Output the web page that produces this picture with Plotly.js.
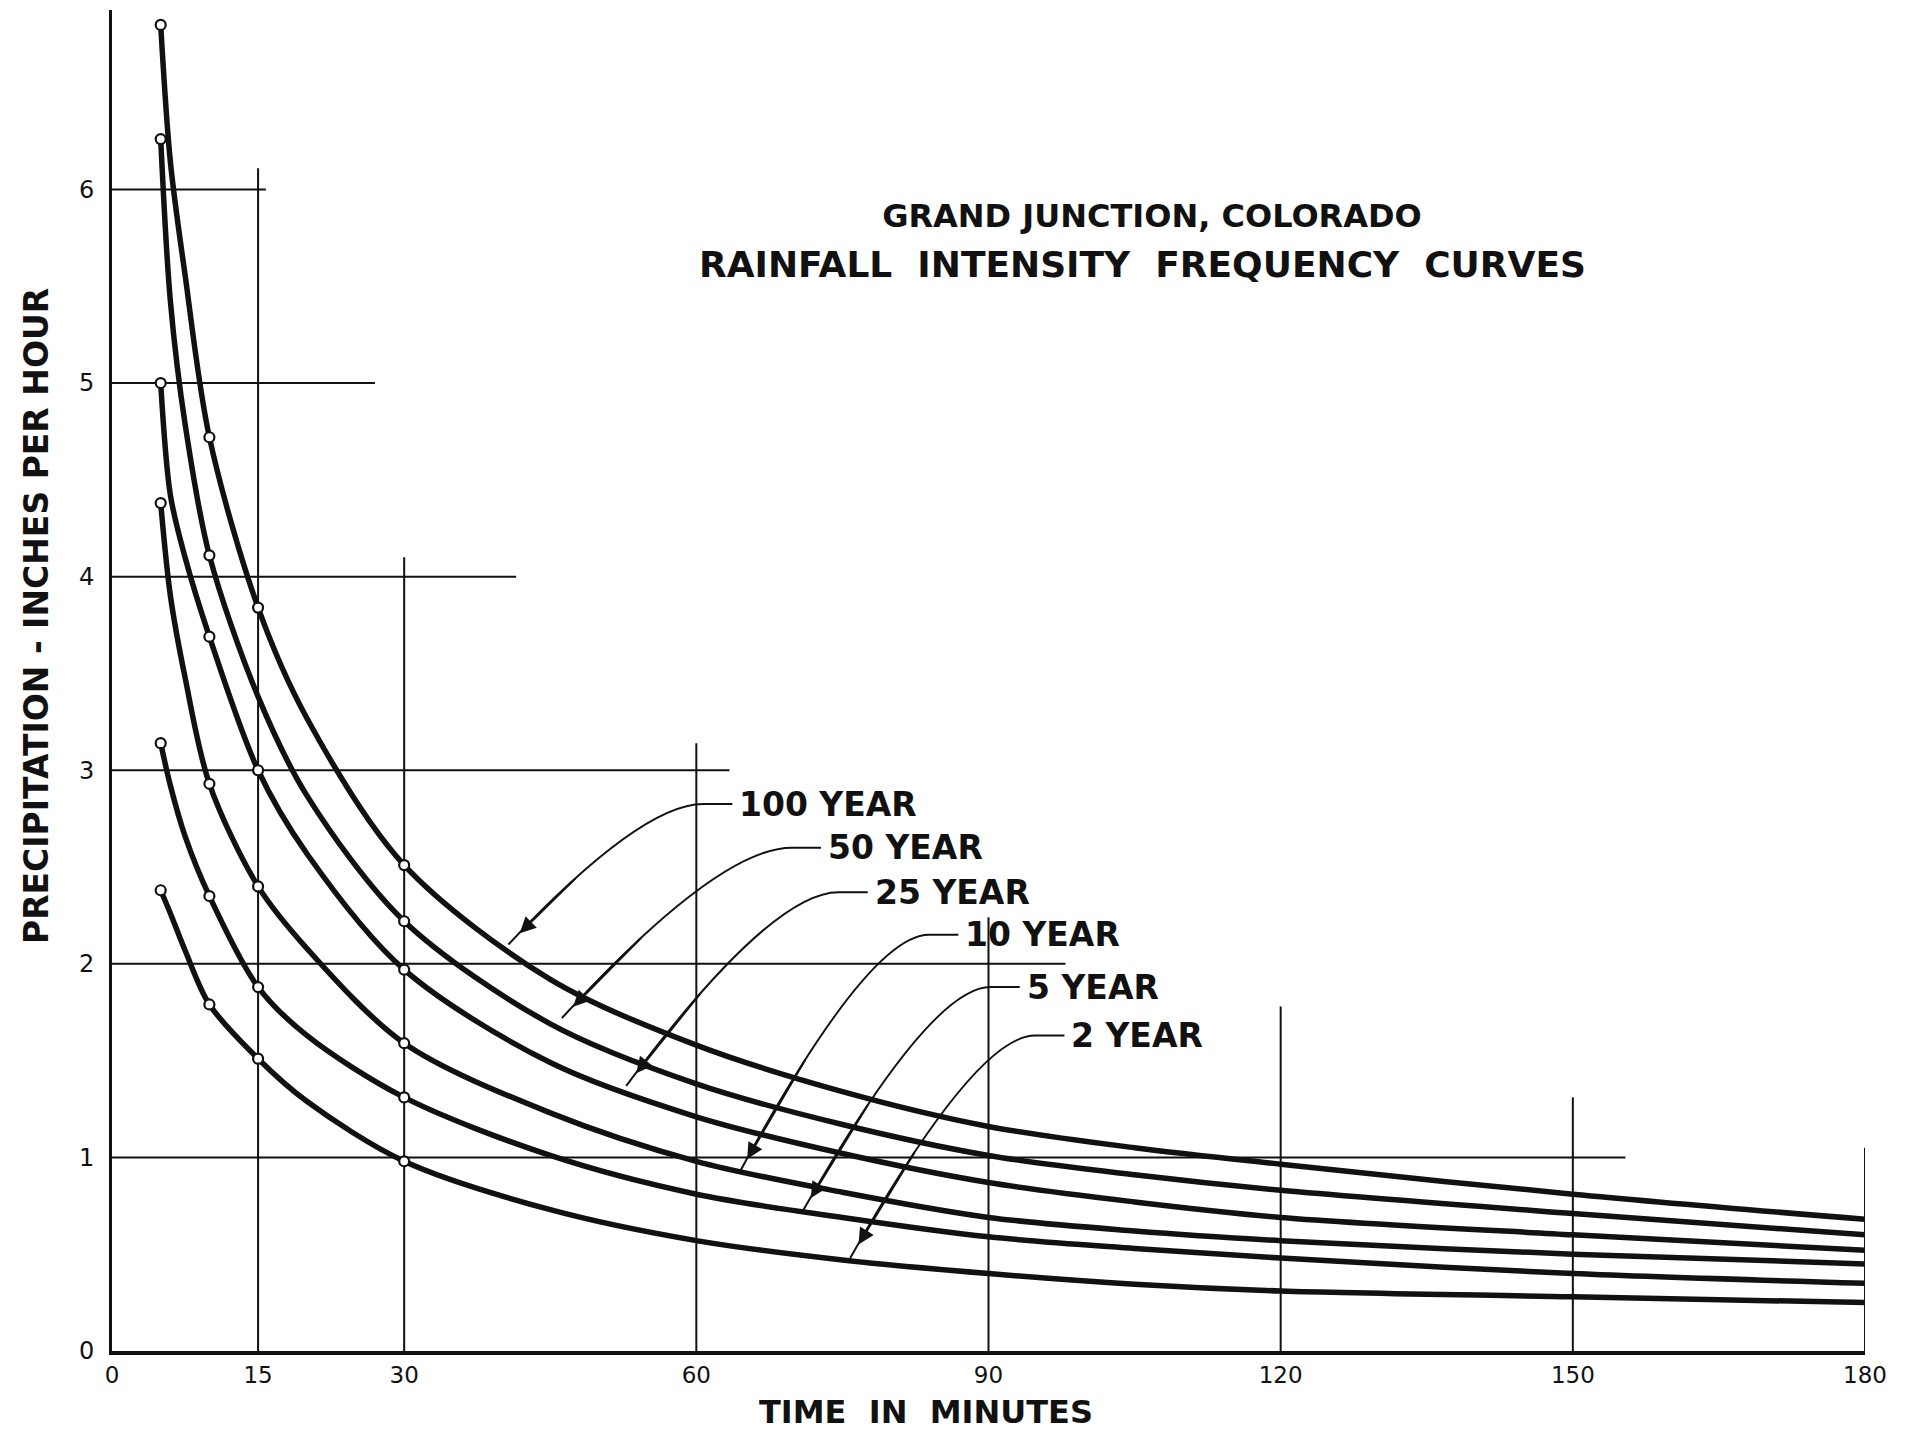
<!DOCTYPE html>
<html>
<head>
<meta charset="utf-8">
<script src="https://cdn.plot.ly/plotly-3.0.1.min.js"></script>
<style>
  html, body { margin: 0; padding: 0; background: #ffffff; }
  #chart { width: 1905px; height: 1431px; }
</style>
</head>
<body>
<div id="chart"></div>
<script>
// ---- data ----
const minutes  = [5, 6, 7.5, 10, 15, 20, 30, 45, 60, 75, 90, 105, 120, 150, 180];
const year100  = [6.85, 6.14, 5.56, 4.72, 3.84, 3.27, 2.51, 1.92, 1.58, 1.34, 1.16, 1.05, 0.965, 0.81, 0.68];
const year50   = [6.26, 5.42, 4.79, 4.11, 3.38, 2.87, 2.22, 1.69, 1.38, 1.17, 1.01, 0.91, 0.83, 0.71, 0.60];
const year25   = [5.00, 4.42, 4.10, 3.69, 3.00, 2.57, 1.97, 1.49, 1.21, 1.02, 0.87, 0.77, 0.69, 0.60, 0.52];
const year10   = [4.38, 3.90, 3.48, 2.93, 2.40, 2.08, 1.59, 1.23, 0.98, 0.82, 0.69, 0.62, 0.57, 0.50, 0.45];
const year5    = [3.14, 2.92, 2.66, 2.35, 1.88, 1.63, 1.31, 1.01, 0.81, 0.69, 0.59, 0.53, 0.48, 0.40, 0.35];
const year2    = [2.38, 2.26, 2.07, 1.79, 1.51, 1.29, 0.98, 0.73, 0.57, 0.47, 0.40, 0.345, 0.31, 0.28, 0.25];

// plotted (circled) points
const circleMinutes = [5, 10, 15, 30];
const circle100 = [6.85, 4.72, 3.84, 2.51];
const circle50  = [6.26, 4.11, null, 2.22];
const circle25  = [5.00, 3.69, 3.00, 1.97];
const circle10  = [4.38, 2.93, 2.40, 1.59];
const circle5   = [3.14, 2.35, 1.88, 1.31];
const circle2   = [2.38, 1.79, 1.51, 0.98];

// curve labels and where their leaders point
const labelTexts = ['100 YEAR', '50 YEAR', '25 YEAR', '10 YEAR', '5 YEAR', '2 YEAR'];
const labelMin   = [64.2, 73.3, 78.1, 87.4, 93.7, 98.3];
const labelVal   = [2.825, 2.60, 2.37, 2.15, 1.88, 1.63];
const tipMin     = [40.7, 46.2, 52.8, 64.4, 70.9, 75.8];
const tipVal     = [2.10, 1.72, 1.37, 0.92, 0.72, 0.48];

// staircase grid lines of the drawing
const hGridVals = [1, 2, 3, 4, 5, 6];
const hGridEnds = [155.4, 97.9, 63.4, 41.5, 27.0, 15.8];
const vGridVals = [15, 30, 60, 90, 120, 150, 180];
const vGridTops = [6.11, 4.10, 3.14, 2.24, 1.78, 1.31, 1.05];

const xTicks = [0, 15, 30, 60, 90, 120, 150, 180];
const yTicks = [0, 1, 2, 3, 4, 5, 6];

const titleLine1 = 'GRAND JUNCTION, COLORADO';
const titleLine2 = 'RAINFALL\u00a0\u00a0INTENSITY\u00a0\u00a0FREQUENCY\u00a0\u00a0CURVES';
const xTitle = 'TIME\u00a0\u00a0IN\u00a0\u00a0MINUTES';
const yTitle = 'PRECIPITATION - INCHES PER HOUR';

// ---- drawing ----
const FONT = 'DejaVu Sans, Liberation Sans, Arial, sans-serif';
const INK = '#111111';

const seriesVals = [year100, year50, year25, year10, year5, year2];
const circleVals = [circle100, circle50, circle25, circle10, circle5, circle2];

const traces = [];
seriesVals.forEach((vals, i) => {
  traces.push({
    type: 'scatter', mode: 'lines', name: labelTexts[i],
    x: minutes, y: vals,
    line: { color: INK, width: 5.5, shape: 'spline', smoothing: 0.9 },
    showlegend: false
  });
});
circleVals.forEach((vals, i) => {
  traces.push({
    type: 'scatter', mode: 'markers', name: labelTexts[i] + ' points',
    x: circleMinutes, y: vals,
    marker: { symbol: 'circle', size: 10, color: '#ffffff', line: { color: INK, width: 2.2 } },
    showlegend: false
  });
});

const shapes = [];
hGridVals.forEach((v, i) => {
  shapes.push({ type: 'line', xref: 'x', yref: 'y', x0: 0, x1: hGridEnds[i], y0: v, y1: v,
    line: { color: INK, width: 2 }, layer: 'below' });
});
vGridVals.forEach((v, i) => {
  shapes.push({ type: 'line', xref: 'x', yref: 'y', x0: v, x1: v, y0: 0, y1: vGridTops[i],
    line: { color: INK, width: 2 }, layer: 'below' });
});

const annotations = [];
function quad(p0, p1, p2, t) {
  const a = (1 - t) * (1 - t), b = 2 * (1 - t) * t, c = t * t;
  return [a * p0[0] + b * p1[0] + c * p2[0], a * p0[1] + b * p1[1] + c * p2[1]];
}
labelTexts.forEach((txt, i) => {
  const sx = labelMin[i] - 0.5;
  const sy = labelVal[i];
  const hx = sx - 3.0;
  const tx = tipMin[i], ty = tipVal[i];
  const cx = tx + 0.68 * (hx - tx);
  shapes.push({
    type: 'path', xref: 'x', yref: 'y',
    path: `M ${sx},${sy} L ${hx},${sy} Q ${cx},${sy} ${tx},${ty}`,
    line: { color: INK, width: 2 }
  });
  const tail = quad([hx, sy], [cx, sy], [tx, ty], 0.72);
  annotations.push({
    xref: 'x', yref: 'y', axref: 'x', ayref: 'y',
    x: tx, y: ty, ax: tail[0], ay: tail[1], text: '',
    showarrow: true, arrowhead: 2, arrowsize: 1.6, arrowwidth: 2, arrowcolor: INK, standoff: 16
  });
  annotations.push({
    xref: 'x', yref: 'y', x: labelMin[i], y: labelVal[i], text: txt,
    xanchor: 'left', yanchor: 'middle', showarrow: false,
    font: { family: FONT, size: 33, weight: 'bold', color: INK }
  });
});

annotations.push({
  xref: 'paper', yref: 'paper', x: 0.588, y: 0.810, text: titleLine2,
  xanchor: 'center', yanchor: 'middle', showarrow: false,
  font: { family: FONT, size: 36, weight: 'bold', color: INK }
});
annotations.push({
  xref: 'paper', yref: 'paper', x: 0.4644, y: -0.0455, text: xTitle,
  xanchor: 'center', yanchor: 'middle', showarrow: false,
  font: { family: FONT, size: 32, weight: 'bold', color: INK }
});
annotations.push({
  xref: 'paper', yref: 'paper', x: -0.0434, y: 0.548, text: yTitle, textangle: -90,
  xanchor: 'center', yanchor: 'middle', showarrow: false,
  font: { family: FONT, size: 33, weight: 'bold', color: INK }
});

const layout = {
  width: 1905, height: 1431,
  margin: { l: 112, r: 40, t: 10, b: 80, pad: 0 },
  paper_bgcolor: '#ffffff', plot_bgcolor: '#ffffff',
  showlegend: false,
  title: {
    text: titleLine1, x: 0.6047, xanchor: 'center', xref: 'container',
    y: 0.849, yanchor: 'middle', yref: 'container',
    font: { family: FONT, size: 32, weight: 'bold', color: INK }
  },
  xaxis: {
    range: [0, 180], tickvals: xTicks, ticktext: xTicks.map(String),
    showgrid: false, zeroline: false, showline: true, linecolor: INK, linewidth: 4,
    ticks: '', ticklabelstandoff: 0,
    tickfont: { family: FONT, size: 23, color: INK }
  },
  yaxis: {
    range: [0, 6.927], tickvals: yTicks, ticktext: yTicks.map(String),
    showgrid: false, zeroline: false, showline: true, linecolor: INK, linewidth: 3,
    ticks: '', ticklabelstandoff: 10,
    tickfont: { family: FONT, size: 24, color: INK }
  },
  shapes: shapes,
  annotations: annotations
};

Plotly.newPlot('chart', traces, layout, { displayModeBar: false, staticPlot: true });
</script>
</body>
</html>
